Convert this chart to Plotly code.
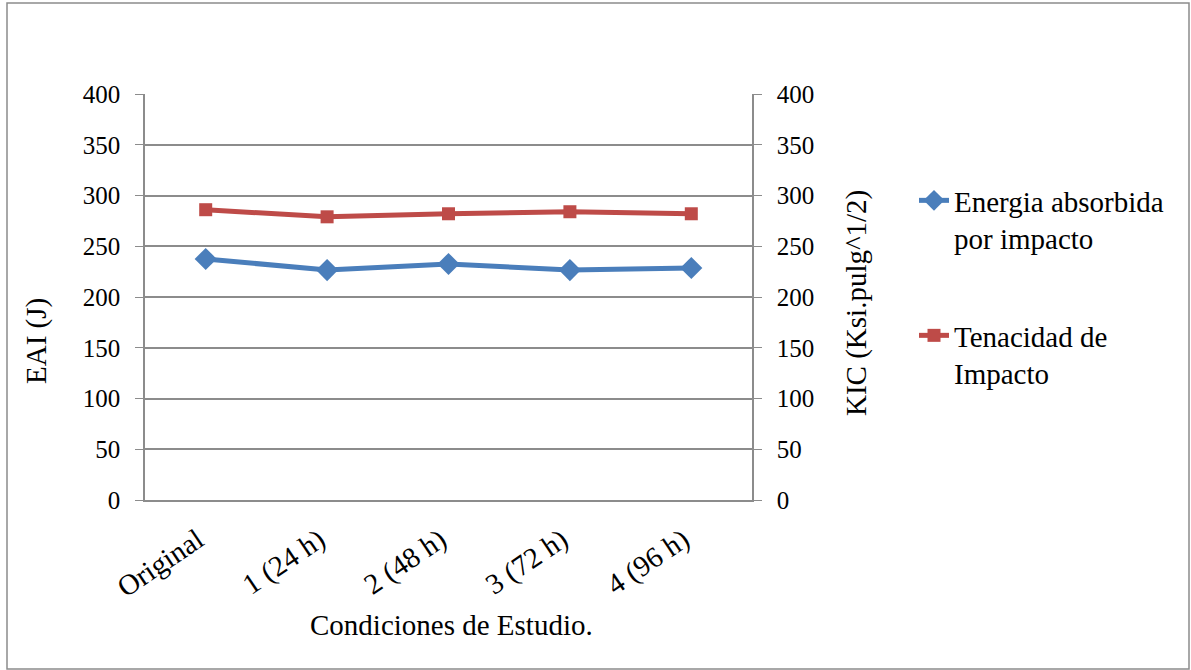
import plotly.graph_objects as go

categories = ["Original", "1 (24 h)", "2 (48 h)", "3 (72 h)", "4 (96 h)"]
energia = [237.5, 226.5, 232.5, 226.5, 228.5]
tenacidad = [286, 279, 282, 284, 282]
y_ticks = [0, 50, 100, 150, 200, 250, 300, 350, 400]

FONT = "'Liberation Serif', 'Times New Roman', serif"
FS_Y = 25
FS = 29
GRID = "#8c8c8c"
BLUE = "#4A7EBB"
RED = "#BE4B48"

W, H = 1191, 670
L, R, T, B = 145, 752, 94, 500


def px_x(p):
    return (p - L) / (R - L)


def px_y(p):
    return (B - p) / (B - T)


fig = go.Figure()
fig.add_trace(go.Scatter(
    x=categories, y=energia, name="Energia absorbida<br>por impacto",
    mode="lines+markers", line=dict(color=BLUE, width=5),
    marker=dict(symbol="diamond", size=17, color=BLUE), legend="legend",
))
fig.add_trace(go.Scatter(
    x=categories, y=tenacidad, name="Tenacidad de<br>Impacto",
    mode="lines+markers", line=dict(color=RED, width=5),
    marker=dict(symbol="square", size=13, color=RED), yaxis="y2", legend="legend2",
))

axis_common = dict(
    range=[0, 400], tickvals=y_ticks, ticks="outside", ticklen=8, tickcolor=GRID,
    showline=True, linecolor=GRID, linewidth=1.5, tickfont=dict(family=FONT, size=FS_Y, color="black"),
    ticklabelstandoff=10, zeroline=False, fixedrange=True,
)

fig.update_layout(
    width=W, height=H,
    margin=dict(l=L, r=W - R, t=T, b=H - B, autoexpand=False),
    paper_bgcolor="white", plot_bgcolor="white",
    font=dict(family=FONT, size=FS, color="black"),
    showlegend=True,
    xaxis=dict(
        type="category", range=[-0.5, 4.5], showline=True, linecolor=GRID, linewidth=1.5,
        ticks="", tickangle=-34, showgrid=False, tickfont=dict(family=FONT, size=FS),
        ticklabelstandoff=10, ticklabelshift=-8, fixedrange=True,
    ),
    yaxis=dict(**axis_common, showgrid=True, gridcolor=GRID, gridwidth=1.5),
    yaxis2=dict(**axis_common, overlaying="y", side="right", showgrid=False),
    legend=dict(x=px_x(914), y=px_y(175), xanchor="left", yanchor="top",
                font=dict(family=FONT, size=FS), valign="top", bgcolor="rgba(0,0,0,0)"),
    legend2=dict(x=px_x(914), y=px_y(310), xanchor="left", yanchor="top",
                 font=dict(family=FONT, size=FS), valign="top", bgcolor="rgba(0,0,0,0)"),
    annotations=[
        dict(text="EAI (J)", xref="paper", yref="paper", x=px_x(36), y=px_y(341),
             xanchor="center", yanchor="middle",
             textangle=-90, showarrow=False, font=dict(family=FONT, size=FS)),
        dict(text="KIC (Ksi.pulg^1/2)", xref="paper", yref="paper", x=px_x(856), y=px_y(303),
             xanchor="center", yanchor="middle",
             textangle=-90, showarrow=False, font=dict(family=FONT, size=FS)),
        dict(text="Condiciones de Estudio.", xref="paper", yref="paper", x=px_x(451), y=px_y(625),
             xanchor="center", yanchor="middle",
             showarrow=False, font=dict(family=FONT, size=FS)),
    ],
    shapes=[dict(type="rect", xref="paper", yref="paper",
                 x0=px_x(7), x1=px_x(1189), y0=px_y(669), y1=px_y(3),
                 line=dict(color="#8c8c8c", width=1.5), layer="below")],
)

fig.write_html("out.html", config={"displayModeBar": False},
               post_script="document.body.style.margin='0';")
